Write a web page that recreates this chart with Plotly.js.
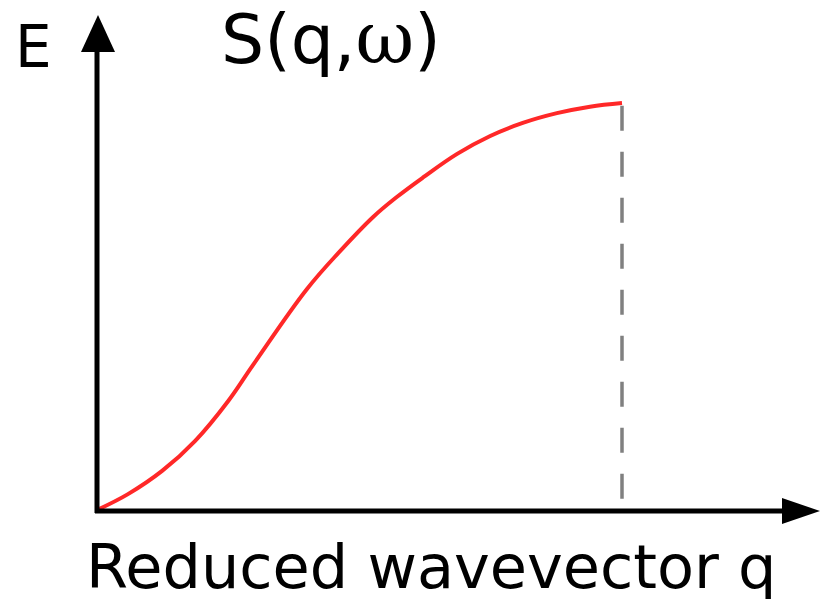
<!DOCTYPE html>
<html>
<head>
<meta charset="utf-8">
<script src="https://cdn.plot.ly/plotly-3.0.1.min.js"></script>
<style>html,body{margin:0;padding:0;background:#fff;}#chart{width:820px;height:599px;}</style>
</head>
<body>
<div id="chart"></div>
<script>
// Dispersion curve (reduced wavevector q, energy E, both normalised)
var qValues = [0, 0.059, 0.124, 0.187, 0.250, 0.297, 0.400, 0.463, 0.526, 0.571, 0.621, 0.686, 0.749, 0.811, 0.876, 0.939, 1.0];
var eValues = [0, 0.039, 0.096, 0.170, 0.268, 0.356, 0.543, 0.636, 0.720, 0.769, 0.817, 0.875, 0.919, 0.951, 0.975, 0.991, 1.0];
// Zone boundary marker
var boundaryQ = [1.0, 1.0];
var boundaryE = [0.993, 0.027];
// Texts
var titleText = 'S(q,<span style="font-family:DejaVu Serif;font-size:72px">ω</span>)';
var yLabel = 'E';
var xLabel = 'Reduced wavevector q';

var W = 820, H = 599;
// pixel -> paper helpers for decorative axis arrows
function px(x){ return x / W; }
function py(y){ return 1 - y / H; }

// axes ranges so that q=0 sits at x=97px, q=1 at 622px; E=0 at y=510px, E=1 at y=103px
var xr = [(0 - 97) / 525, (W - 97) / 525];
var yr = [(510 - H) / 407, (510 - 0) / 407];

var traces = [
  {x: qValues, y: eValues, mode: 'lines', line: {color: 'rgb(255,40,40)', width: 4, shape: 'spline', smoothing: 1.1}, hoverinfo: 'skip'},
  {x: boundaryQ, y: boundaryE, mode: 'lines', line: {color: 'rgb(128,128,128)', width: 3.5, dash: '25px,21px'}, hoverinfo: 'skip'}
];

var shapes = [
  // y axis
  {type: 'line', xref: 'paper', yref: 'paper', x0: px(97), y0: py(513), x1: px(97), y1: py(45), line: {color: '#000', width: 5}},
  {type: 'path', xref: 'paper', yref: 'paper', path: 'M' + px(98) + ',' + py(15) + ' L' + px(115) + ',' + py(52) + ' L' + px(81) + ',' + py(52) + ' Z', fillcolor: '#000', line: {color: '#000', width: 0}},
  // x axis
  {type: 'line', xref: 'paper', yref: 'paper', x0: px(95), y0: py(511), x1: px(786), y1: py(511), line: {color: '#000', width: 5}},
  {type: 'path', xref: 'paper', yref: 'paper', path: 'M' + px(820) + ',' + py(511) + ' L' + px(782) + ',' + py(498) + ' L' + px(782) + ',' + py(524) + ' Z', fillcolor: '#000', line: {color: '#000', width: 0}}
];

var font = 'DejaVu Sans, Liberation Sans, Arial, sans-serif';
var annotations = [
  {text: yLabel, xref: 'paper', yref: 'paper', x: px(13), y: py(47), xanchor: 'left', yanchor: 'middle', showarrow: false, font: {family: font, size: 58, color: '#000'}},
  {text: titleText, xref: 'paper', yref: 'paper', x: px(219), y: py(38), xanchor: 'left', yanchor: 'middle', showarrow: false, font: {family: font, size: 68, color: '#000'}},
  {text: xLabel, xref: 'paper', yref: 'paper', x: px(84), y: py(567), xanchor: 'left', yanchor: 'middle', showarrow: false, font: {family: font, size: 60.5, color: '#000'}}
];

var layout = {
  width: W, height: H,
  margin: {l: 0, r: 0, t: 0, b: 0},
  paper_bgcolor: '#fff', plot_bgcolor: '#fff',
  showlegend: false,
  xaxis: {range: xr, visible: false, fixedrange: true},
  yaxis: {range: yr, visible: false, fixedrange: true},
  shapes: shapes,
  annotations: annotations
};

Plotly.newPlot('chart', traces, layout, {displayModeBar: false, staticPlot: true});
</script>
</body>
</html>
